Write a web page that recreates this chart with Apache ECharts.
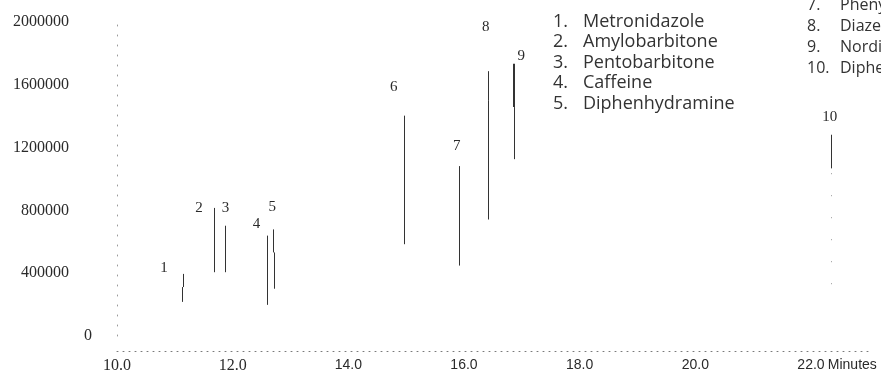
<!DOCTYPE html>
<html><head><meta charset="utf-8">
<script src="https://cdn.jsdelivr.net/npm/echarts@6/dist/echarts.min.js"></script>
<style>html,body{margin:0;padding:0;background:#fff}#c{width:881px;height:374px}</style>
</head><body><div id="c"></div>
<script>
// ---- data ----
const xTickLabels = [10, 12, 14, 16, 18, 20, 22];          // minutes
const yTickLabels = [0, 400000, 800000, 1200000, 1600000, 2000000];
const compounds = ['Metronidazole', 'Amylobarbitone', 'Pentobarbitone', 'Caffeine', 'Diphenhydramine',
                   'Phenobarbitone', 'Phenytoin', 'Diazepam', 'Nordiazepam', 'Diphenoxylate'];
// peak segments (a peak may be drawn as two stacked segments)
const segPeak = [1, 1, 2, 3, 4, 5, 5, 6, 7, 8, 8, 9, 9, 10];
const segTime = [11.124, 11.141, 11.677, 11.876, 12.602, 12.720, 12.703, 14.958, 15.909, 16.420, 16.410, 16.870, 16.870, 22.341];
const segLow  = [217300, 311800, 406300, 406300, 198400, 301100, 532300, 584600, 448500, 742000, 1497900, 1126300, 1458200, 1067700];
const segHigh = [311800, 395600, 815700, 702400, 639400, 532300, 679000, 1403500, 1082200, 1497900, 1686900, 1458200, 1733500, 1281900];
// faint remnant of peak 10 below its drawn part
const traceTime = [22.341];
const traceLow  = [330000];
const traceHigh = [1067700];

// ---- styles ----
const thickSeg = [12];
const labelOffset = { 1: [-19, -6], 2: [-15, 0], 3: [0, -18], 4: [-11, -12], 5: [-1, -22],
                      6: [-10, -29], 7: [-2, -20], 8: [-2, -44], 9: [7, -8], 10: [-1, -18] };
const INK = '#2a2a2a';

const segData = segTime.map((t, i) => [t, segLow[i], segHigh[i], segPeak[i]]);
const traceData = traceTime.map((t, i) => [t, traceLow[i], traceHigh[i]]);
const peakIds = [...new Set(segPeak)];
const topData = peakIds.map(p => {
  let best = -1;
  segPeak.forEach((q, i) => { if (q === p && (best < 0 || segHigh[i] > segHigh[best])) best = i; });
  return [segTime[best], segHigh[best], p];
});

const chart = echarts.init(document.getElementById('c'), null, { renderer: 'canvas' });

const legendEls = [];
const col1 = [0, 1, 2, 3, 4];
col1.forEach((k, r) => {
  const y = 21.5 + r * 20.6;
  legendEls.push({ type: 'text', x: 553, y, style: { text: (k + 1) + '.', font: '18px "Open Sans"', fill: '#333', align: 'left', verticalAlign: 'middle' } });
  legendEls.push({ type: 'text', x: 583, y, style: { text: compounds[k], font: '18px "Open Sans"', fill: '#333', align: 'left', verticalAlign: 'middle' } });
});
const col2 = [6, 7, 8, 9];
col2.forEach((k, r) => {
  const y = 5.4 + r * 21;
  legendEls.push({ type: 'text', x: 807, y, style: { text: (k + 1) + '.', font: '16px "Open Sans"', fill: '#333', align: 'left', verticalAlign: 'middle' } });
  legendEls.push({ type: 'text', x: 840, y, style: { text: compounds[k], font: '16px "Open Sans"', fill: '#333', align: 'left', verticalAlign: 'middle' } });
});

const xStep = xTickLabels[1] - xTickLabels[0];
const yStep = yTickLabels[1] - yTickLabels[0];

chart.setOption({
  animation: false,
  backgroundColor: '#fff',
  grid: { left: 117, right: 12.2, top: 22, bottom: 34.5, containLabel: false },
  xAxis: {
    type: 'value', min: xTickLabels[0], max: 23, interval: xStep,
    offset: 15,
    axisLine: { show: true, onZero: false, lineStyle: { color: '#7a7a7a', width: 1, type: [1, 5] } },
    axisTick: { show: false },
    splitLine: { show: false },
    axisLabel: {
      margin: 7, showMaxLabel: false, color: INK,
      formatter: v => (v <= 12 ? '{s|' : '{a|') + v.toFixed(1) + '}',
      rich: {
        s: { fontFamily: 'Liberation Serif', fontSize: 16, color: INK },
        a: { fontFamily: 'Liberation Sans', fontSize: 14, color: INK }
      }
    },
    name: 'Minutes', nameLocation: 'end', nameGap: -41, nameMoveOverlap: false,
    nameTextStyle: { fontFamily: 'Liberation Sans', fontSize: 14, color: INK, align: 'left', verticalAlign: 'top', padding: [7, 0, 0, 0] }
  },
  yAxis: {
    type: 'value', min: yTickLabels[0], max: yTickLabels[yTickLabels.length - 1], interval: yStep,
    axisLine: { show: true, onZero: false, lineStyle: { color: '#9a9a9a', width: 1, type: [1, 9] } },
    axisTick: { show: false },
    splitLine: { show: false },
    axisLabel: {
      align: 'left', margin: 107,
      formatter: v => v === 0 ? '{z|0}' : '{n|' + v + '}',
      rich: {
        n: { width: 59, align: 'right', fontFamily: 'Liberation Serif', fontSize: 16, color: INK },
        z: { width: 82, align: 'right', fontFamily: 'Liberation Serif', fontSize: 16, color: INK }
      }
    }
  },
  graphic: legendEls,
  series: [
    {
      type: 'custom', name: 'peaks', clip: false, data: segData,
      encode: { x: 0, y: [1, 2] },
      renderItem(params, api) {
        const i = params.dataIndex;
        const a = api.coord([api.value(0), api.value(1)]);
        const b = api.coord([api.value(0), api.value(2)]);
        const w = thickSeg.includes(i) ? 2 : 1;
        const x = w === 1 ? Math.round(a[0]) + 0.5 : Math.round(a[0]);
        return { type: 'line', shape: { x1: x, y1: a[1], x2: x, y2: b[1] }, style: { stroke: '#333', lineWidth: w } };
      }
    },
    {
      type: 'custom', name: 'trace', clip: false, data: traceData,
      encode: { x: 0, y: [1, 2] },
      renderItem(params, api) {
        const a = api.coord([api.value(0), api.value(1)]);
        const b = api.coord([api.value(0), api.value(2)]);
        const x = Math.round(a[0]) + 0.5;
        return { type: 'line', shape: { x1: x, y1: a[1], x2: x, y2: b[1] }, style: { stroke: '#999', lineWidth: 1, lineDash: [1, 21] } };
      }
    },
    {
      type: 'custom', name: 'labels', clip: false, data: topData,
      encode: { x: 0, y: 1 },
      renderItem(params, api) {
        const p = api.value(2);
        const c = api.coord([api.value(0), api.value(1)]);
        const o = labelOffset[p];
        return { type: 'text', x: c[0] + o[0], y: c[1] + o[1],
          style: { text: String(p), font: '15px "Liberation Serif"', fill: INK, align: 'center', verticalAlign: 'middle' } };
      }
    }
  ]
});
</script></body></html>
